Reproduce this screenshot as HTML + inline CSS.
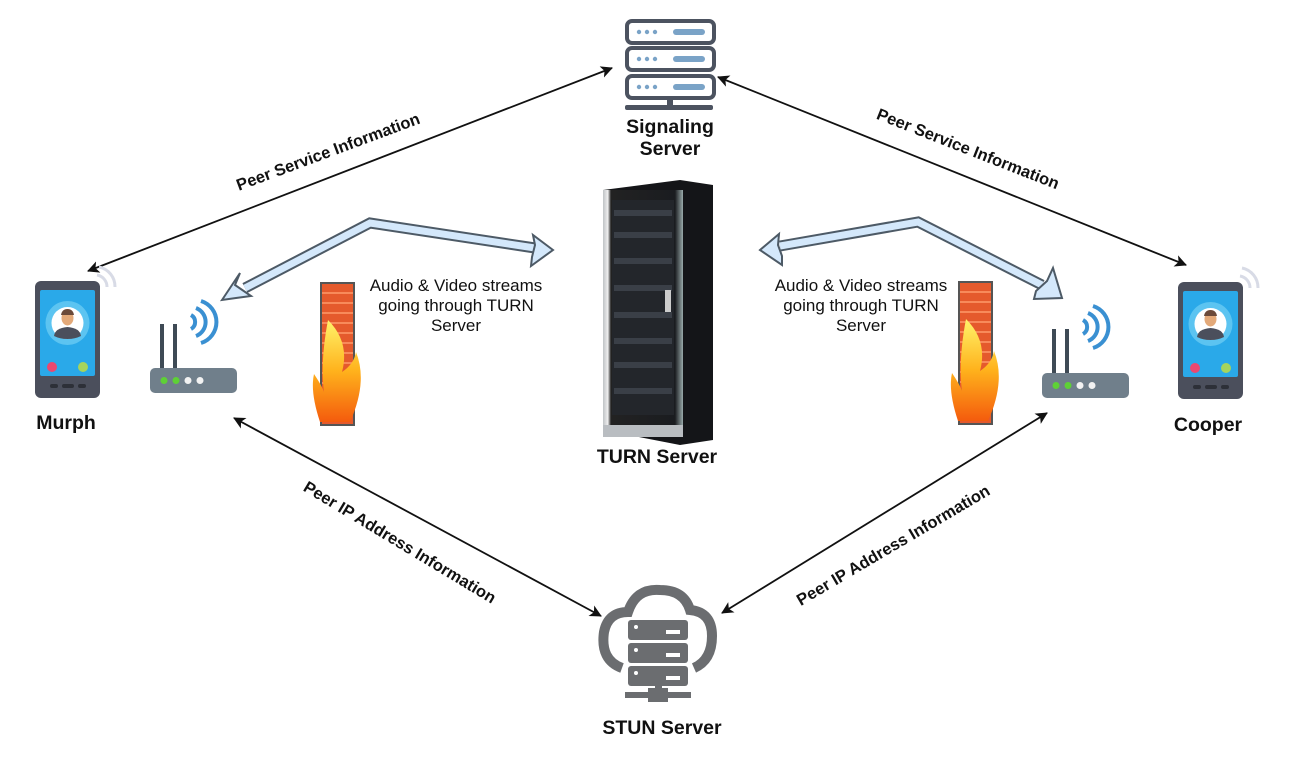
<!DOCTYPE html>
<html><head><meta charset="utf-8"><style>
html,body{margin:0;padding:0;background:#fff;}
svg{display:block;font-family:"Liberation Sans",sans-serif;}
.lbl{font-weight:bold;font-size:16.5px;fill:#111;}
.nm{font-weight:bold;font-size:19.5px;fill:#111;}
.t{font-size:17px;fill:#111;}
</style></head><body>
<svg width="1300" height="762" viewBox="0 0 1300 762" xmlns="http://www.w3.org/2000/svg">
<defs>
<marker id="ah" viewBox="0 0 12 12" refX="11" refY="6" markerWidth="12" markerHeight="12" orient="auto-start-reverse" markerUnits="userSpaceOnUse">
<path d="M0,0 L12,6 L0,12 L3,6 z" fill="#111"/></marker>
<linearGradient id="flame" x1="0" y1="0" x2="0" y2="1">
<stop offset="0" stop-color="#fff36a"/><stop offset="0.5" stop-color="#ffb21c"/><stop offset="1" stop-color="#f45b0d"/></linearGradient>
<linearGradient id="rack" x1="0" y1="0" x2="1" y2="0">
<stop offset="0" stop-color="#bfc3c6"/><stop offset="0.06" stop-color="#eee"/><stop offset="0.1" stop-color="#222"/><stop offset="0.9" stop-color="#1a1c20"/><stop offset="1" stop-color="#9aa"/></linearGradient>
<g id="phone">
<rect x="0" y="0" width="65" height="117" rx="6" fill="#4b4f5c"/>
<rect x="5" y="9" width="55" height="86" rx="2" fill="#2aa9e9"/>
<circle cx="32.5" cy="42" r="22" fill="#5cc4f1"/>
<circle cx="32.5" cy="42" r="16" fill="#fff"/>
<path d="M19,55 Q20,47 32.5,46 Q45,47 46,55 Q40,58 32.5,58 Q25,58 19,55z" fill="#4b4f5c"/>
<ellipse cx="32.5" cy="37" rx="6" ry="7.5" fill="#e3a979"/>
<path d="M26,34 Q27,28 32.5,28 Q38,28 39,34z" fill="#6b4a3a"/>
<circle cx="17" cy="86" r="5" fill="#ea4870"/>
<circle cx="48" cy="86" r="5" fill="#a6d45c"/>
<rect x="15" y="103" width="8" height="4" rx="2" fill="#2d3038"/>
<rect x="27" y="103" width="12" height="4" rx="2" fill="#2d3038"/>
<rect x="43" y="103" width="8" height="4" rx="2" fill="#2d3038"/>
<path d="M62,-6 A12,12 0 0 1 72,6" stroke="#d8dbe6" stroke-width="3" fill="none"/>
<path d="M64,-14 A20,20 0 0 1 80,6" stroke="#d8dbe6" stroke-width="3" fill="none"/>
</g>
<g id="router">
<rect x="0" y="0" width="87" height="25" rx="5" fill="#707f8b"/>
<rect x="10" y="-44" width="4" height="44" fill="#3e4a55"/>
<rect x="23" y="-44" width="4" height="44" fill="#3e4a55"/>
<circle cx="14" cy="12.5" r="3.5" fill="#5ed136"/>
<circle cx="26" cy="12.5" r="3.5" fill="#5ed136"/>
<circle cx="38" cy="12.5" r="3.5" fill="#f2f2f2"/>
<circle cx="50" cy="12.5" r="3.5" fill="#f2f2f2"/>
<path d="M41,-53 A8,8 0 0 1 41,-39" stroke="#3a90d2" stroke-width="4" fill="none"/>
<path d="M46,-60 A15,15 0 0 1 46,-32" stroke="#3a90d2" stroke-width="4" fill="none"/>
<path d="M51,-67 A22,22 0 0 1 51,-25" stroke="#3a90d2" stroke-width="4" fill="none"/>
</g>
<g id="fw">
<rect x="0" y="0" width="35" height="144" fill="#555" />
<rect x="2" y="2" width="31" height="140" fill="#e55a2c"/>
<g stroke="#ff9a6a" stroke-width="1.5">
<path d="M2,11H33M2,21H33M2,31H33M2,41H33M2,51H33M2,61H33M2,71H33M2,81H33M2,91H33M2,101H33M2,111H33M2,121H33M2,131H33"/>
</g>
<path d="M8,38 Q30,60 22,90 Q34,82 36,70 Q48,100 30,140 L0,140 Q-10,110 -6,92 Q2,104 4,110 Q0,80 8,38z" fill="url(#flame)"/>
</g>
<g id="bar"><rect x="0" y="0" width="87" height="22" rx="5" fill="none" stroke="#4c5360" stroke-width="4"/>
<circle cx="12" cy="11" r="2.2" fill="#7aa3c7"/><circle cx="20" cy="11" r="2.2" fill="#7aa3c7"/><circle cx="28" cy="11" r="2.2" fill="#7aa3c7"/>
<rect x="46" y="8" width="32" height="6" rx="3" fill="#7aa3c7"/></g>
<g id="sbar"><rect x="0" y="0" width="60" height="20" rx="3" fill="#6b6d70"/>
<circle cx="8" cy="7" r="2" fill="#fff"/><rect x="38" y="10" width="14" height="4" fill="#fff"/></g>
</defs>

<line x1="88" y1="271" x2="612" y2="68" stroke="#111" stroke-width="1.8" marker-start="url(#ah)" marker-end="url(#ah)"/>
<line x1="718" y1="77" x2="1186" y2="265" stroke="#111" stroke-width="1.8" marker-start="url(#ah)" marker-end="url(#ah)"/>
<line x1="234" y1="418" x2="601" y2="616" stroke="#111" stroke-width="1.8" marker-start="url(#ah)" marker-end="url(#ah)"/>
<line x1="722" y1="613" x2="1047" y2="413" stroke="#111" stroke-width="1.8" marker-start="url(#ah)" marker-end="url(#ah)"/>

<text class="lbl" text-anchor="middle" transform="translate(330,157) rotate(-20.4)">Peer Service Information</text>
<text class="lbl" text-anchor="middle" transform="translate(966,154) rotate(21.4)">Peer Service Information</text>
<text class="lbl" text-anchor="middle" transform="translate(397,547) rotate(31)">Peer IP Address Information</text>
<text class="lbl" text-anchor="middle" transform="translate(896,550) rotate(-30.5)">Peer IP Address Information</text>

<g stroke-linejoin="miter">
<polyline points="245,288 370,223 535,248" fill="none" stroke="#4d5a66" stroke-width="11"/>
<polyline points="245,288 370,223 535,248" fill="none" stroke="#d4e8fb" stroke-width="7"/>
<polygon points="222,300 240,273 235,285 251,296 236,298" fill="#d4e8fb" stroke="#4d5a66" stroke-width="2"/>
<polygon points="553,250 533,235 535,245 532,257 531,266" fill="#d4e8fb" stroke="#4d5a66" stroke-width="2"/>
<polyline points="780,246 918,222 1042,285" fill="none" stroke="#4d5a66" stroke-width="11"/>
<polyline points="780,246 918,222 1042,285" fill="none" stroke="#d4e8fb" stroke-width="7"/>
<polygon points="760,250 779,234 778,245 782,256 782,265" fill="#d4e8fb" stroke="#4d5a66" stroke-width="2"/>
<polygon points="1062,298 1053,268 1047,281 1036,291 1034,299" fill="#d4e8fb" stroke="#4d5a66" stroke-width="2"/>
</g>

<text class="t" text-anchor="middle" x="456" y="291">Audio &amp; Video streams</text>
<text class="t" text-anchor="middle" x="456" y="311">going through TURN</text>
<text class="t" text-anchor="middle" x="456" y="331">Server</text>
<text class="t" text-anchor="middle" x="861" y="291">Audio &amp; Video streams</text>
<text class="t" text-anchor="middle" x="861" y="311">going through TURN</text>
<text class="t" text-anchor="middle" x="861" y="331">Server</text>

<use href="#bar" x="627" y="21"/><use href="#bar" x="627" y="48"/><use href="#bar" x="627" y="76"/>
<rect x="667" y="98" width="6" height="8" fill="#4c5360"/>
<rect x="625" y="105" width="88" height="5" rx="2" fill="#4c5360"/>
<text class="nm" text-anchor="middle" x="670" y="133">Signaling</text>
<text class="nm" text-anchor="middle" x="670" y="155">Server</text>

<polygon points="603,190 680,180 713,185 713,440 680,445 603,430" fill="#141518"/>
<rect x="603" y="190" width="80" height="240" fill="url(#rack)"/>
<rect x="612" y="200" width="62" height="215" fill="#23262b"/>
<g fill="#3a3f47">
<rect x="614" y="210" width="58" height="6"/><rect x="614" y="232" width="58" height="6"/><rect x="614" y="258" width="58" height="6"/><rect x="614" y="285" width="58" height="6"/><rect x="614" y="312" width="58" height="6"/><rect x="614" y="338" width="58" height="6"/><rect x="614" y="362" width="58" height="6"/><rect x="614" y="388" width="58" height="6"/></g>
<rect x="665" y="290" width="6" height="22" fill="#ccc"/>
<rect x="603" y="425" width="80" height="12" fill="#b9bdc1"/>
<text class="nm" text-anchor="middle" x="657" y="463">TURN Server</text>

<path d="M622,668 Q600,660 604,632 Q608,612 628,612 Q636,588 660,590 Q684,590 690,610 Q712,612 712,636 Q712,660 694,668" fill="none" stroke="#6b6d70" stroke-width="10"/>
<use href="#sbar" x="628" y="620"/><use href="#sbar" x="628" y="643"/><use href="#sbar" x="628" y="666"/>
<rect x="655" y="686" width="7" height="10" fill="#6b6d70"/>
<rect x="625" y="692" width="66" height="6" fill="#6b6d70"/>
<rect x="648" y="688" width="20" height="14" fill="#6b6d70"/>
<text class="nm" text-anchor="middle" x="662" y="734">STUN Server</text>

<use href="#phone" x="35" y="281"/>
<use href="#phone" x="1178" y="282"/>
<text class="nm" text-anchor="middle" x="66" y="429">Murph</text>
<text class="nm" text-anchor="middle" x="1208" y="431">Cooper</text>
<use href="#router" x="150" y="368"/>
<use href="#router" x="1042" y="373"/>
<use href="#fw" x="320" y="282"/>
<use href="#fw" x="958" y="281"/>
</svg>
</body></html>
